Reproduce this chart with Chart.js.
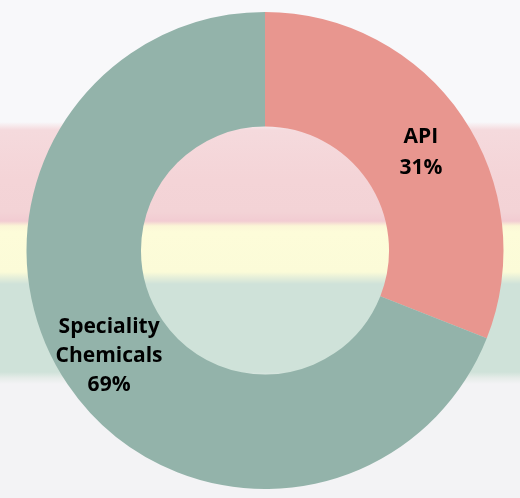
<!DOCTYPE html>
<html>
<head>
<meta charset="utf-8">
<script src="https://cdn.jsdelivr.net/npm/chart.js@4.4.1/dist/chart.umd.min.js"></script>
<style>
  html, body { margin: 0; padding: 0; }
  body {
    width: 520px; height: 498px; overflow: hidden;
    background: linear-gradient(to bottom,
      #f8f8fa 0px, #f8f8fa 122px,
      #f5dadd 130px, #f4d4d7 180px, #f3d3d6 212px, #f2ccd2 221px,
      #fbf6d6 226px, #fdfcd9 232px, #fbfbd8 272px, #e4eed9 278px,
      #cfe2d9 284px, #cfe2d9 372px, #e6ece9 378px,
      #f3f3f5 384px, #f3f3f5 498px);
  }
  #wrap { position: relative; width: 520px; height: 498px; }
</style>
</head>
<body>
<div id="wrap"><canvas id="c" width="520" height="498"></canvas></div>
<script>
const categories = ['API', 'Speciality Chemicals'];
const labelLines = [['API'], ['Speciality', 'Chemicals']];
const shares = [31, 69];
const sliceColors = ['#e8968f', '#93b3aa'];

const labelPlugin = {
  id: 'sliceLabels',
  afterDatasetsDraw(chart) {
    const ctx = chart.ctx;
    const meta = chart.getDatasetMeta(0);
    ctx.save();
    ctx.font = 'bold 21px "Open Sans", Lato, sans-serif';
    ctx.fillStyle = '#000000';
    ctx.textAlign = 'center';
    ctx.textBaseline = 'middle';
    meta.data.forEach((arc, i) => {
      const p = arc.tooltipPosition();
      const cx = arc.x;
      const x = cx + (p.x - cx) * 1.04;
      const lines = labelLines[i].concat([shares[i] + '%']);
      const lh = i === 0 ? 31 : 29;
      const y0 = p.y - (lines.length - 1) * lh / 2 + 4;
      lines.forEach((t, k) => ctx.fillText(t, x, y0 + k * lh));
    });
    ctx.restore();
  }
};

new Chart(document.getElementById('c'), {
  type: 'doughnut',
  data: {
    labels: categories,
    datasets: [{
      data: shares,
      backgroundColor: sliceColors,
      borderWidth: 0,
      hoverOffset: 0
    }]
  },
  options: {
    responsive: false,
    animation: false,
    cutout: '52%',
    layout: { padding: { top: 12, bottom: 9, left: 10, right: 0 } },
    plugins: {
      legend: { display: false },
      tooltip: { enabled: false }
    }
  },
  plugins: [labelPlugin]
});
</script>
</body>
</html>
